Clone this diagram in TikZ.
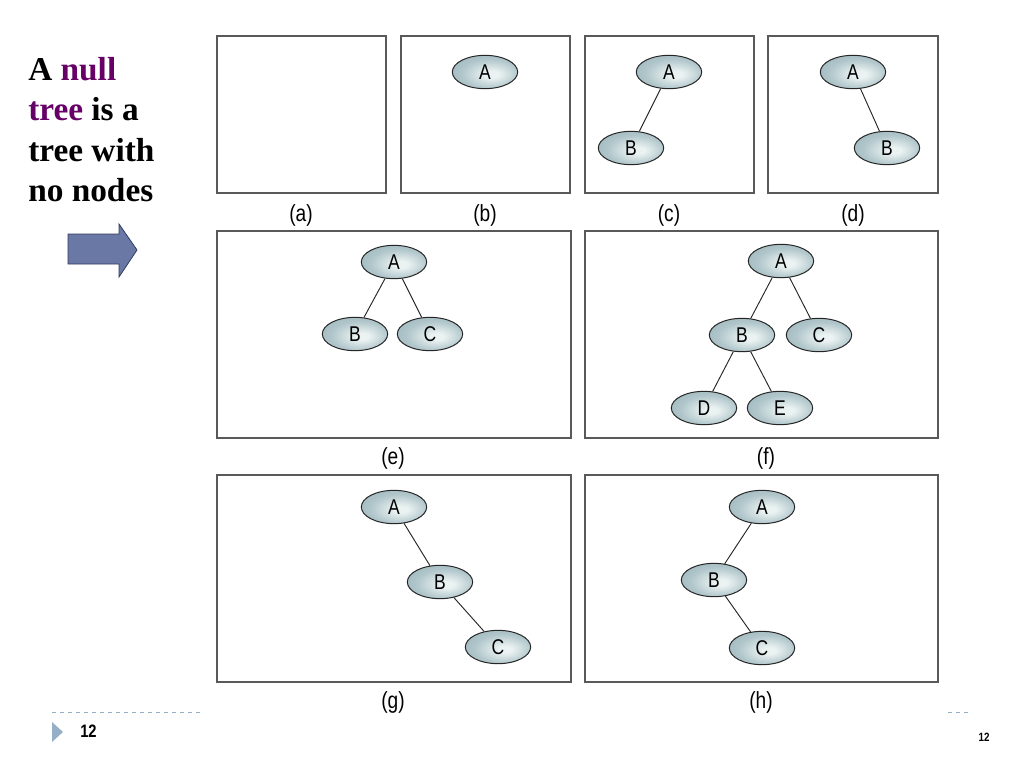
\documentclass[tikz,border=0pt]{standalone}
\usepackage{fontspec}
\setmainfont{Liberation Serif}
\newfontfamily\sansf{Liberation Sans}
\newfontfamily\sansc[FakeStretch=0.82]{Liberation Sans}
\usetikzlibrary{shapes.geometric}
\definecolor{nodeout}{RGB}{146,172,179}
\definecolor{nodemid}{RGB}{176,198,203}
\definecolor{nodein}{RGB}{235,242,242}
\definecolor{purp}{RGB}{102,0,102}
\definecolor{arrowfill}{RGB}{106,120,166}
\definecolor{arrowline}{RGB}{50,58,95}
\definecolor{dashc}{RGB}{150,175,200}
\definecolor{trif}{RGB}{150,175,200}
\pgfdeclareradialshading{nodeshade}{\pgfpoint{6bp}{-4bp}}{%
  color(0bp)=(nodein); color(5bp)=(nodein); color(22bp)=(nodemid); color(42bp)=(nodeout); color(60bp)=(nodeout)}
\tikzset{
  tnode/.style={ellipse, draw=black!85, line width=0.75pt, shading=nodeshade,
    minimum width=49pt, minimum height=25pt, inner sep=0pt, font=\sansc\fontsize{16}{16}\selectfont},
  boxframe/.style={draw=black!65, line width=1.1pt},
  captxt/.style={font=\sansc\fontsize{17.5}{17.5}\selectfont},
  tedge/.style={draw=black!85, line width=0.7pt}
}
\begin{document}
\begin{tikzpicture}[x=0.75pt,y=-0.75pt]
\useasboundingbox (0,0) rectangle (1024,768);
\fill[white] (0,0) rectangle (1024,768);

% left text
\node[anchor=north west, align=left, font=\bfseries\fontsize{25}{30.3}\selectfont, inner sep=0pt] (txt) at (28,57)
  {A \textcolor{purp}{null}\\\textcolor{purp}{tree} is a\\tree with\\no nodes};
% block arrow
\draw[fill=arrowfill, draw=arrowline, line width=0.6pt]
  (68,234) -- (119,234) -- (119,224) -- (137,250) -- (119,277) -- (119,264) -- (68,264) -- cycle;

% frames
\draw[boxframe] (217,36) rectangle (386,193);
\draw[boxframe] (401,36) rectangle (570,193);
\draw[boxframe] (585,36) rectangle (754,193);
\draw[boxframe] (768,36) rectangle (938,193);
\draw[boxframe] (217,231) rectangle (571,438);
\draw[boxframe] (585,231) rectangle (938,438);
\draw[boxframe] (217,475) rectangle (571,682);
\draw[boxframe] (585,475) rectangle (938,682);

% captions
\node[captxt] (la) at (301,215) {(a)};
\node[captxt] (lb) at (485,215) {(b)};
\node[captxt] (lc) at (669,215) {(c)};
\node[captxt] (ld) at (853,215) {(d)};
\node[captxt] (le) at (393,458) {(e)};
\node[captxt] (lf) at (766,458) {(f)};
\node[captxt] (lg) at (393,702) {(g)};
\node[captxt] (lh) at (761,702) {(h)};

% (b)
\node[tnode] (bA) at (485,72) {A};
% (c)
\node[tnode] (cA) at (669,72) {A};
\node[tnode] (cB) at (631,148) {B};
\draw[tedge] (cA) -- (cB);
% (d)
\node[tnode] (dA) at (853,72) {A};
\node[tnode] (dB) at (887,148) {B};
\draw[tedge] (dA) -- (dB);
% (e)
\node[tnode] (eA) at (394,262) {A};
\node[tnode] (eB) at (355,334) {B};
\node[tnode] (eC) at (430,334) {C};
\draw[tedge] (eA) -- (eB);
\draw[tedge] (eA) -- (eC);
% (f)
\node[tnode] (fA) at (781,261) {A};
\node[tnode] (fB) at (742,335) {B};
\node[tnode] (fC) at (819,335) {C};
\node[tnode] (fD) at (704,408) {D};
\node[tnode] (fE) at (780,408) {E};
\draw[tedge] (fA) -- (fB);
\draw[tedge] (fA) -- (fC);
\draw[tedge] (fB) -- (fD);
\draw[tedge] (fB) -- (fE);
% (g)
\node[tnode] (gA) at (394,507) {A};
\node[tnode] (gB) at (440,582) {B};
\node[tnode] (gC) at (498,647) {C};
\draw[tedge] (gA) -- (gB);
\draw[tedge] (gB) -- (gC);
% (h)
\node[tnode] (hA) at (762,507) {A};
\node[tnode] (hB) at (714,580) {B};
\node[tnode] (hC) at (762,648) {C};
\draw[tedge] (hA) -- (hB);
\draw[tedge] (hB) -- (hC);

% footer
\draw[dashc, dashed, line width=0.6pt] (52,712) -- (200,712);
\draw[dashc, dashed, line width=0.6pt] (948,712) -- (972,712);
\fill[trif] (52,722) -- (63,732) -- (52,742) -- cycle;
\node[font=\sansc\bfseries\fontsize{13.5}{13.5}\selectfont, anchor=west, inner sep=0pt] (pn) at (80,731) {12};
\node[font=\sansc\bfseries\fontsize{9}{9}\selectfont, inner sep=0pt] (pn2) at (984,737) {12};
\end{tikzpicture}
\end{document}
